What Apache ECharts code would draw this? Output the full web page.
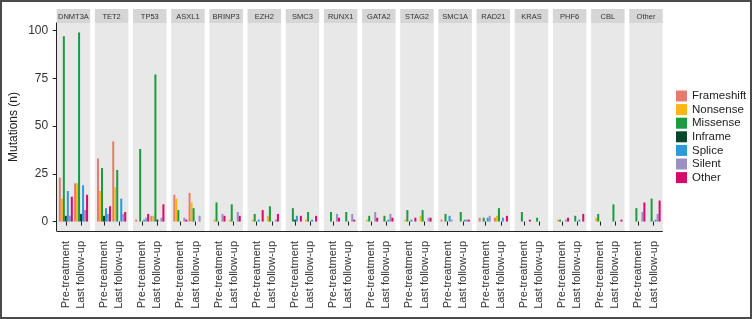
<!DOCTYPE html>
<html>
<head>
<meta charset="utf-8">
<script src="https://cdn.jsdelivr.net/npm/echarts@6/dist/echarts.min.js"></script>
<style>
  html, body { margin: 0; padding: 0; background: #fff; }
  #chart { width: 752px; height: 319px; }
</style>
</head>
<body>
<div id="chart"></div>
<script>
// genes (facets), time points and mutation types
var genes = ['DNMT3A', 'TET2', 'TP53', 'ASXL1', 'BRINP3', 'EZH2', 'SMC3', 'RUNX1',
             'GATA2', 'STAG2', 'SMC1A', 'RAD21', 'KRAS', 'PHF6', 'CBL', 'Other'];
var timepoints = ['Pre-treatment', 'Last follow-up'];
var types = ['Frameshift', 'Nonsense', 'Missense', 'Inframe', 'Splice', 'Silent', 'Other'];
var colors = ['#E47D6D', '#FDB515', '#1C9A3E', '#06472C', '#2B9BDA', '#9D8EC6', '#D8096C'];
var yTicks = [0, 25, 50, 75, 100];

// counts per gene: [pre-treatment, last follow-up]
var frameshift = [[23,20],[33,42],[1,3],[14,15],[0,0],[0,0],[0,0],[0,0],[0,0],[0,0],[1,0],[2,2],[0,0],[0,0],[0,0],[0,0]];
var nonsense   = [[12,20],[16,18],[0,3],[12,10],[1,1],[1,3],[0,1],[0,0],[1,0],[1,3],[0,0],[0,3],[0,0],[1,0],[2,0],[0,0]];
var missense   = [[97,99],[28,27],[38,77],[6,7],[10,9],[4,8],[7,5],[5,5],[3,3],[6,6],[4,5],[2,7],[5,2],[1,3],[4,9],[7,12]];
var inframe    = [[3,4],[3,0],[0,1],[0,0],[0,0],[0,0],[1,0],[0,0],[0,0],[0,0],[0,0],[0,0],[0,0],[0,0],[0,0],[0,0]];
var splice     = [[16,19],[7,12],[1,0],[0,0],[0,0],[1,0],[3,1],[0,0],[0,1],[1,0],[3,1],[2,2],[0,0],[0,1],[0,0],[0,1]];
var silent     = [[3,6],[4,4],[2,2],[2,3],[4,5],[0,1],[0,0],[4,4],[5,4],[0,2],[1,1],[3,0],[0,0],[1,0],[0,0],[5,4]];
var other      = [[13,14],[8,5],[4,9],[1,0],[3,3],[6,4],[3,3],[2,1],[2,2],[2,2],[0,1],[0,3],[1,0],[2,4],[0,1],[10,11]];
var byType = [frameshift, nonsense, missense, inframe, splice, silent, other];

var myChart = echarts.init(document.getElementById('chart'));

// panel layout
var left0 = 56.7, pitch = 38.17, pw = 33.5, top0 = 23, ph = 208;

var grids = [], xAxes = [], yAxes = [], series = [], graphics = [];

genes.forEach(function (g, i) {
  var gx = left0 + i * pitch;
  grids.push({
    left: gx, top: top0, width: pw, height: ph,
    show: true, backgroundColor: '#E8E8E8', borderWidth: 0,
    containLabel: false, outerBoundsMode: 'none'
  });
  // discrete positions 1 and 2, ggplot-like padding of 0.6
  xAxes.push({
    type: 'value', gridIndex: i, min: 0.4, max: 2.6,
    splitLine: { show: false },
    axisLine: { show: false },
    axisTick: { show: true, customValues: [1, 2], length: 4, lineStyle: { color: '#222' } },
    axisLabel: {
      customValues: [1, 2], rotate: 90, fontSize: 11, color: '#333', margin: 10,
      formatter: function (v) { return timepoints[Math.round(v) - 1]; }
    }
  });
  yAxes.push({
    type: 'value', gridIndex: i, min: -4.95, max: 103.95,
    name: i === 0 ? 'Mutations (n)' : '',
    nameLocation: 'middle', nameGap: 37,
    nameTextStyle: { fontSize: 12, color: '#222', fontFamily: "'Liberation Sans Narrow', 'Liberation Sans', sans-serif" },
    splitLine: { show: false },
    axisLine: { show: i === 0, lineStyle: { color: '#222' } },
    axisTick: { show: i === 0, length: 4, customValues: yTicks, lineStyle: { color: '#222' } },
    axisLabel: { show: i === 0, customValues: yTicks, fontSize: 12, color: '#333', margin: 8.5 }
  });
  types.forEach(function (t, k) {
    series.push({
      name: t, type: 'bar', xAxisIndex: i, yAxisIndex: i,
      data: byType[k][i].map(function (v, j) { return [j + 1, v]; }),
      barWidth: 2, barGap: '0%',
      itemStyle: { color: colors[k] },
      emphasis: { disabled: true }
    });
  });
  // facet strip
  graphics.push({
    type: 'rect', shape: { x: gx, y: 9, width: pw, height: 14 },
    style: { fill: '#D6D6D6' }, silent: true
  });
  graphics.push({
    type: 'text', x: gx + pw / 2, y: 16.5,
    style: { text: g, fontSize: 7.5, fill: '#333', align: 'center', verticalAlign: 'middle' },
    silent: true
  });
});

// continuous x axis line under all panels
graphics.push({
  type: 'line',
  shape: { x1: left0, y1: top0 + ph + 0.5, x2: left0 + 15 * pitch + pw, y2: top0 + ph + 0.5 },
  style: { stroke: '#222', lineWidth: 1 }, silent: true
});
// outer frame
graphics.push({
  type: 'rect', shape: { x: 1, y: 1, width: 750, height: 317 },
  style: { fill: 'none', stroke: '#4a4a4a', lineWidth: 2 }, silent: true
});

var option = {
  animation: false,
  textStyle: { fontFamily: "'Liberation Sans', Arial, sans-serif" },
  legend: {
    data: types, orient: 'vertical', left: 676, top: 90, padding: 0,
    itemWidth: 11, itemHeight: 11, itemGap: 1.6, icon: 'rect',
    textStyle: { fontSize: 11.5, color: '#222' }
  },
  grid: grids,
  xAxis: xAxes,
  yAxis: yAxes,
  series: series,
  graphic: graphics
};

myChart.setOption(option);
</script>
</body>
</html>
